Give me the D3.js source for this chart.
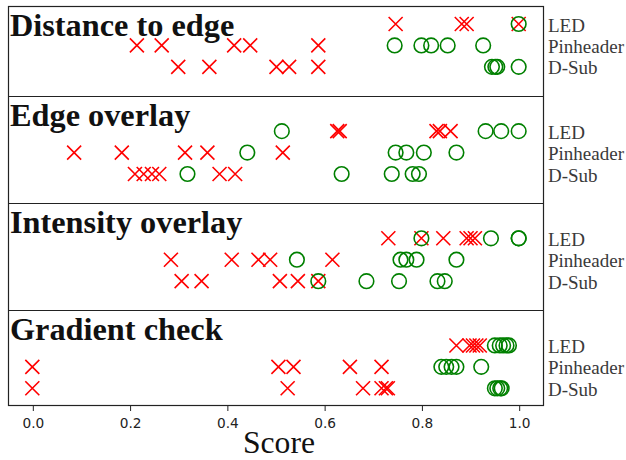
<!DOCTYPE html>
<html>
<head>
<meta charset="utf-8">
<script src="https://cdn.jsdelivr.net/npm/d3@7"></script>
<style>
  html, body { margin: 0; padding: 0; background: #fff; }
  svg { display: block; }
</style>
</head>
<body>
<svg id="chart" width="626" height="460"></svg>
<script>
// ---- data ----
const panels = ["Distance to edge", "Edge overlay", "Intensity overlay", "Gradient check"];
const rows = ["LED", "Pinheader", "D-Sub"];
const xTicks = [0, 0.2, 0.4, 0.6, 0.8, 1.0];
const xLabel = "Score";

// failed (red x) scores, per panel, per row [LED, Pinheader, D-Sub]
const failDistance  = [[0.747, 0.883, 0.893, 1.0], [0.215, 0.266, 0.415, 0.448, 0.588], [0.300, 0.364, 0.502, 0.528, 0.588]];
const failEdge      = [[0.627, 0.632, 0.831, 0.838, 0.860], [0.086, 0.184, 0.314, 0.360, 0.515], [0.211, 0.229, 0.246, 0.261, 0.385, 0.417]];
const failIntensity = [[0.732, 0.800, 0.845, 0.893, 0.901, 0.910], [0.285, 0.410, 0.465, 0.489, 0.617], [0.307, 0.348, 0.509, 0.546, 0.588]];
const failGradient  = [[0.872, 0.899, 0.906, 0.913, 0.920], [0.0, 0.506, 0.537, 0.653, 0.718], [0.0, 0.525, 0.680, 0.718, 0.727, 0.731]];

// passed (green o) scores
const passDistance  = [[1.0], [0.745, 0.800, 0.820, 0.854, 0.927], [0.945, 0.952, 0.956, 1.0]];
const passEdge      = [[0.513, 0.932, 0.964, 1.0], [0.442, 0.747, 0.769, 0.805, 0.872], [0.319, 0.636, 0.739, 0.782, 0.795]];
const passIntensity = [[0.800, 0.943, 1.0, 1.0], [0.544, 0.757, 0.769, 0.790, 0.872], [0.588, 0.687, 0.754, 0.833, 0.848]];
const passGradient  = [[0.951, 0.961, 0.968, 0.975, 0.980], [0.841, 0.851, 0.862, 0.872, 0.923], [0.951, 0.956, 0.962, 0.965]];

const fails = [failDistance, failEdge, failIntensity, failGradient];
const passes = [passDistance, passEdge, passIntensity, passGradient];

// ---- layout ----
const svg = d3.select("#chart");
const mLeft = 8, mRight = 543, mTop = 6, mBottom = 405;
const x = d3.scaleLinear().domain([-0.05, 1.05]).range([mLeft, mRight]);
// row slot index: panel*5 + row
const y = d3.scaleLinear().domain([0, 17]).range([24, 388.3]);
const panelTop = p => p === 0 ? mTop : y(p * 5 - 1.64);

// flatten
const failPts = [], passPts = [];
panels.forEach((p, pi) => rows.forEach((r, ri) => {
  fails[pi][ri].forEach(v => failPts.push({v, slot: pi * 5 + ri}));
  passes[pi][ri].forEach(v => passPts.push({v, slot: pi * 5 + ri}));
}));

const g = svg.append("g");

// red x markers
const s = 7;
g.selectAll("path.fail").data(failPts).join("path")
  .attr("class", "fail")
  .attr("transform", d => `translate(${x(d.v)},${y(d.slot)})`)
  .attr("d", `M${-s},${-s}L${s},${s}M${-s},${s}L${s},${-s}`)
  .attr("stroke", "#ff0000").attr("stroke-width", 1.6).attr("fill", "none");

// green circles
g.selectAll("circle.pass").data(passPts).join("circle")
  .attr("class", "pass")
  .attr("cx", d => x(d.v)).attr("cy", d => y(d.slot)).attr("r", 7.3)
  .attr("stroke", "#008000").attr("stroke-width", 1.6).attr("fill", "none");

// panel separators, titles, row labels
panels.forEach((p, pi) => {
  if (pi > 0) {
    const yy = Math.round(panelTop(pi)) + 0.5;
    svg.append("line").attr("x1", mLeft).attr("x2", mRight).attr("y1", yy).attr("y2", yy)
      .attr("stroke", "#222").attr("stroke-width", 1.2);
  }
  svg.append("text")
    .attr("x", 10).attr("y", panelTop(pi) + 30)
    .attr("font-family", "'Liberation Serif', 'Times New Roman', serif")
    .attr("font-weight", "bold").attr("font-size", 32.3)
    .attr("fill", "#111")
    .text(p);
  rows.forEach((r, ri) => {
    svg.append("text")
      .attr("x", 548).attr("y", y(pi * 5 + ri)).attr("dy", "0.4em")
      .attr("font-family", "'Liberation Serif', 'Times New Roman', serif")
      .attr("font-size", 19).attr("fill", "#3a3a3a")
      .text(r);
  });
});

// frame
svg.append("rect").attr("x", mLeft + 0.5).attr("y", mTop + 0.5)
  .attr("width", mRight - mLeft).attr("height", mBottom - mTop)
  .attr("fill", "none").attr("stroke", "#222").attr("stroke-width", 1.2);

// x axis
const axis = d3.axisBottom(x).tickValues(xTicks).tickFormat(d3.format(".1f")).tickSize(5).tickPadding(7);
const ax = svg.append("g").attr("transform", `translate(0.5,${mBottom + 1})`).call(axis);
ax.select(".domain").remove();
ax.selectAll(".tick line").attr("stroke", "#222");
ax.selectAll(".tick text")
  .style("font-family", "'DejaVu Sans', sans-serif")
  .style("font-size", "13.7px")
  .attr("fill", "#222");

svg.append("text").attr("x", 243).attr("y", 453)
  .attr("font-family", "'Liberation Serif', 'Times New Roman', serif")
  .attr("font-size", 32).attr("fill", "#111")
  .attr("textLength", 72).attr("lengthAdjust", "spacingAndGlyphs")
  .text(xLabel);
</script>
</body>
</html>
